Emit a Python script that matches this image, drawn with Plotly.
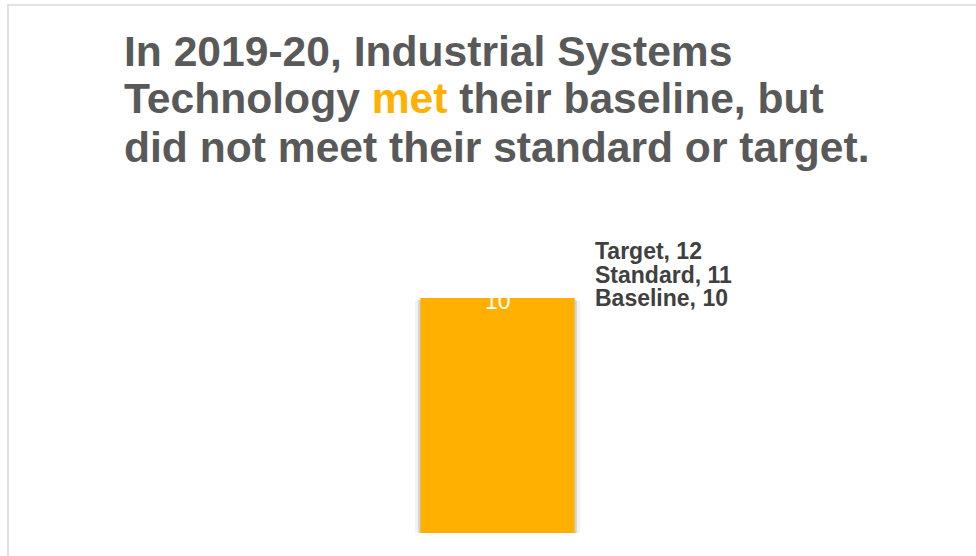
import plotly.graph_objects as go

categories = ["Industrial Systems Technology"]
values = [10]
ref_names = ["Target", "Standard", "Baseline"]
ref_values = [12, 11, 10]
title_lines = ["In 2019-20, Industrial Systems",
               "Technology <span style='color:#FFB000'>met</span> their baseline, but",
               "did not meet their standard or target."]

W, H = 976, 556
ML, MR, MT, MB = 125, 106, 227, 23
pw = W - ML - MR
ph = H - MT - MB
ymax = ph / 23.5
FONT = "Liberation Sans, Arial, sans-serif"

def px_x(px):
    return (px - ML) / pw

def px_y(py):
    return (H - MB - py) / ph

fig = go.Figure()
# soft shadow
fig.add_trace(go.Bar(x=categories, y=values, base=-0.12, width=0.222,
                     marker=dict(color="rgba(0,0,0,0.05)", line=dict(width=0)),
                     hoverinfo="skip", showlegend=False))
fig.add_trace(go.Bar(x=categories, y=values, base=-0.08, width=0.213,
                     marker=dict(color="rgba(0,0,0,0.13)", line=dict(width=0)),
                     hoverinfo="skip", showlegend=False))
fig.add_trace(go.Bar(x=categories, y=values, width=0.207, marker=dict(color="#FFB000", line=dict(width=0)),
                     showlegend=False))

# value label at top of bar
for c, v in zip(categories, values):
    fig.add_annotation(x=c, y=v, text=str(v), showarrow=False, yanchor="middle", yshift=-3,
                       font=dict(family=FONT, size=23, color="white"))

for n, v in zip(ref_names, ref_values):
    fig.add_annotation(xref="paper", x=px_x(593), y=v, text=f"<b>{n}, {v}</b>", showarrow=False,
                       xanchor="left", yanchor="middle",
                       font=dict(family=FONT, size=23, color="#404040"))

# title lines
for i, line in enumerate(title_lines):
    fig.add_annotation(xref="paper", yref="paper", x=px_x(122), y=px_y(50.5 + 48 * i),
                       text="<b>" + line + "</b>", showarrow=False, xanchor="left", yanchor="middle",
                       font=dict(family=FONT, size=42.6, color="#595959"))

# frame border
fig.add_shape(type="rect", xref="paper", yref="paper",
              x0=px_x(8), x1=px_x(W + 20),
              y0=px_y(H + 20), y1=px_y(5),
              line=dict(color="#D9D9D9", width=1.5), fillcolor="rgba(0,0,0,0)", layer="below")

fig.update_layout(
    width=W, height=H,
    margin=dict(l=ML, r=MR, t=MT, b=MB),
    paper_bgcolor="white", plot_bgcolor="white",
    barmode="overlay",
    xaxis=dict(range=[-0.5, 0.5], showticklabels=False, showgrid=False, zeroline=False, showline=False),
    yaxis=dict(range=[0, ymax], showticklabels=False, showgrid=False, zeroline=False, showline=False),
    font=dict(family=FONT),
)

fig.write_html("out.html", config={"displayModeBar": False},
               post_script="document.body.style.margin='0';")
